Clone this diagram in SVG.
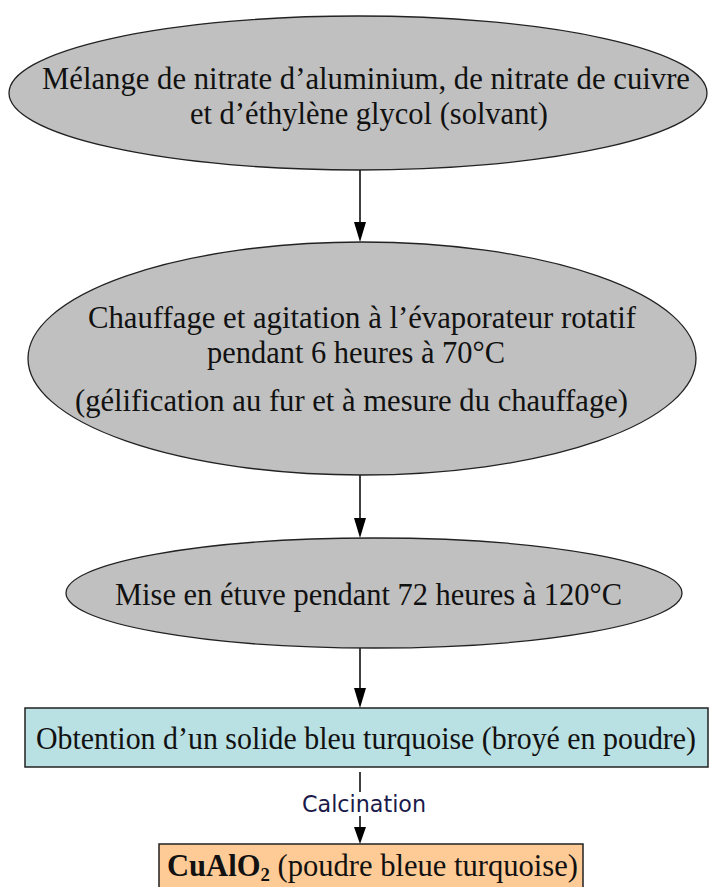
<svg xmlns="http://www.w3.org/2000/svg" width="709" height="887" viewBox="0 0 709 887">
<style>
.el{fill:#c0c0c0;stroke:#222;stroke-width:1.3}
.t{font-family:"Liberation Serif","Times New Roman",serif;font-size:31px;fill:#111;text-anchor:middle}
.ln{stroke:#000;stroke-width:1.5;fill:none}
.ah{fill:#000}
</style>
<g id="connectors">
<line class="ln" x1="360" y1="170" x2="360" y2="225"/>
<path class="ah" d="M354,222 L366,222 L360,242 Z"/>
<line class="ln" x1="360" y1="475" x2="360" y2="521"/>
<path class="ah" d="M354,518 L366,518 L360,538 Z"/>
<line class="ln" x1="360" y1="648" x2="360" y2="691"/>
<path class="ah" d="M354,688 L366,688 L360,708 Z"/>
<line class="ln" x1="360" y1="772" x2="360" y2="792"/>
<line class="ln" x1="360" y1="816" x2="360" y2="830"/>
<path class="ah" d="M354,827 L366,827 L360,844 Z"/>
<text x="364" y="812" style="font-family:'Comic Sans MS','DejaVu Sans',sans-serif;font-size:23px;fill:#1a1a4a;text-anchor:middle" textLength="124" lengthAdjust="spacingAndGlyphs">Calcination</text>
</g>
<g id="n1">
<ellipse class="el" cx="358" cy="93" rx="349" ry="77"/>
<text class="t" x="366" y="89" textLength="648" lengthAdjust="spacingAndGlyphs">Mélange de nitrate d’aluminium, de nitrate de cuivre</text>
<text class="t" x="369" y="124" textLength="358" lengthAdjust="spacingAndGlyphs">et d’éthylène glycol (solvant)</text>
</g>
<g id="n2">
<ellipse class="el" cx="362" cy="358.5" rx="334" ry="116.5"/>
<text class="t" x="362" y="328" textLength="548" lengthAdjust="spacingAndGlyphs">Chauffage et agitation à l’évaporateur rotatif</text>
<text class="t" x="356" y="363" textLength="298" lengthAdjust="spacingAndGlyphs">pendant 6 heures à 70°C</text>
<text class="t" x="351.5" y="411" textLength="553" lengthAdjust="spacingAndGlyphs">(gélification au fur et à mesure du chauffage)</text>
</g>
<g id="n3">
<ellipse class="el" cx="374" cy="593" rx="308" ry="55"/>
<text class="t" x="368.5" y="605" textLength="507" lengthAdjust="spacingAndGlyphs">Mise en étuve pendant 72 heures à 120°C</text>
</g>
<g id="n4">
<rect x="25" y="708" width="683" height="59" fill="#b9e0e3" stroke="#222" stroke-width="1.5"/>
<text class="t" x="366" y="749" textLength="660" lengthAdjust="spacingAndGlyphs">Obtention d’un solide bleu turquoise (broyé en poudre)</text>
</g>
<g id="n5">
<rect x="159" y="844" width="424" height="50" fill="#fecb96" stroke="#222" stroke-width="1.5"/>
<text x="167" y="876" textLength="411" lengthAdjust="spacingAndGlyphs" style="font-family:'Liberation Serif','Times New Roman',serif;font-size:31px;fill:#111"><tspan font-weight="bold">CuAlO</tspan><tspan font-weight="bold" font-size="19" dy="5">2</tspan><tspan dy="-5"> (poudre bleue turquoise)</tspan></text>
</g>
</svg>
